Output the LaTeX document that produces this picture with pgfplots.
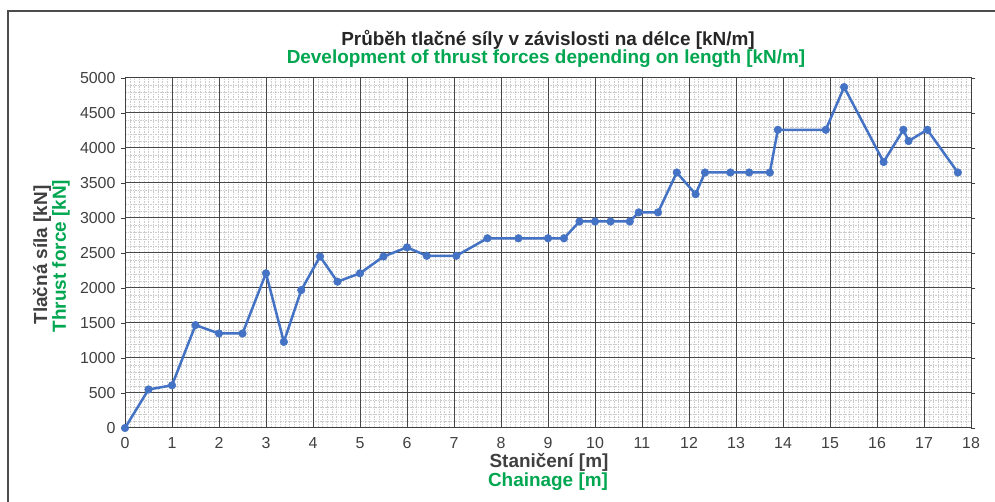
\documentclass[border=0pt]{standalone}
\usepackage{pgfplots}
\pgfplotsset{compat=1.18}
\usepackage{fontspec}
\setmainfont{Liberation Sans}
\definecolor{lineblue}{HTML}{4472C4}
\definecolor{titlegreen}{HTML}{00A650}
\definecolor{txtgrey}{HTML}{404040}
\definecolor{titleblack}{HTML}{262626}
\begin{document}
\begin{tikzpicture}[x=1bp,y=1bp]
\path[use as bounding box] (0,0) rectangle (995,502);
\draw[black!70, line width=1.5bp] (8,0) -- (8,491) -- (995,491);
\begin{axis}[
  at={(125bp,74bp)}, anchor=south west,
  width=846bp, height=350bp, scale only axis,
  xmin=0, xmax=18, ymin=0, ymax=5000,
  xtick={0,1,...,18}, ytick={0,500,...,5000},
  minor x tick num=9, minor y tick num=4,
  grid=minor,
  minor grid style={black!20, dash pattern=on 1.5bp off 1bp, line width=0.35bp},
  extra x ticks={1,2,...,17},
  extra y ticks={500,1000,...,4500},
  extra x tick labels={}, extra y tick labels={},
  extra tick style={grid=major, major grid style={black!72, line width=1bp}},
  extra x tick style={major tick length=0pt},
  axis line style={black!75, line width=1bp},
  tick align=outside,
  major tick length=4bp, minor tick length=0pt,
  xtick style={draw=none},
  ytick style={black!75, line width=0.8bp},
  /pgf/number format/assume math mode=true,
  /pgf/number format/1000 sep={},
  ticklabel style={font=\fontsize{16}{18}\selectfont, text=txtgrey},
  yticklabel style={xshift=-2bp},
  xticklabel style={yshift=-2bp},
  clip=false,
]
\addplot[lineblue, line width=2.5bp, mark=*, mark size=3.8bp, mark options={fill=lineblue, draw=lineblue, line width=0.5bp}] coordinates {
(0,0) (0.5,550) (1.0,610) (1.5,1470) (2.0,1350) (2.5,1350) (3.0,2210)
(3.38,1230) (3.75,1970) (4.15,2450) (4.52,2090) (5.0,2210) (5.5,2450)
(6.0,2580) (6.42,2460) (7.05,2460) (7.71,2710) (8.37,2710) (9.0,2710)
(9.34,2710) (9.67,2950) (10.0,2950) (10.33,2950) (10.74,2950) (10.93,3080)
(11.34,3080) (11.74,3650) (12.14,3340) (12.34,3650) (12.88,3650) (13.28,3650)
(13.72,3650) (13.89,4260) (14.91,4260) (15.30,4870) (16.14,3800) (16.56,4260)
(16.67,4100) (17.07,4260) (17.72,3650)
};
\end{axis}
\node[font=\bfseries\fontsize{19}{21}\selectfont, text=titleblack] at (548,462) {Průběh tlačné síly v závislosti na délce [kN/m]};
\node[font=\bfseries\fontsize{19}{21}\selectfont, text=titlegreen] at (546,443) {Development of thrust forces depending on length [kN/m]};
\node[font=\bfseries\fontsize{19}{21}\selectfont, text=txtgrey] at (549,40) {Staničení [m]};
\node[font=\bfseries\fontsize{19}{21}\selectfont, text=titlegreen] at (548,20) {Chainage [m]};
\node[font=\bfseries\fontsize{19}{21}\selectfont, text=txtgrey, rotate=90] at (42,247) {Tlačná síla [kN]};
\node[font=\bfseries\fontsize{19}{21}\selectfont, text=titlegreen, rotate=90] at (61,246) {Thrust force [kN]};
\end{tikzpicture}
\end{document}
